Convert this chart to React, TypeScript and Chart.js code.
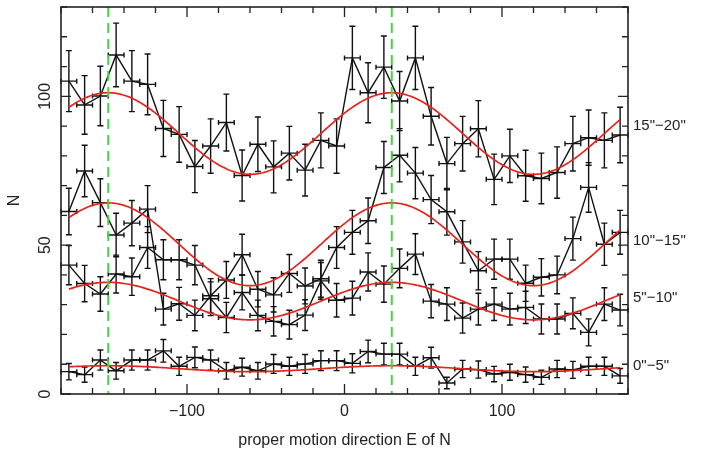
import React, { useEffect, useRef } from "react";
import { Chart, registerables } from "chart.js";

Chart.register(...registerables);

// ---- data ----
const binCenters = [
  -175, -165, -155, -145, -135, -125, -115, -105, -95, -85, -75, -65,
  -55, -45, -35, -25, -15, -5, 5, 15, 25, 35, 45, 55,
  65, 75, 85, 95, 105, 115, 125, 135, 145, 155, 165, 175,
];
const binHalfWidth = 5;

const counts0to5 = [
  7.5, 6.5, 11.4, 7.8, 11.4, 11.4, 14.5, 9.3, 12.3, 11.4, 7.8, 9.0,
  7.8, 10.1, 9.3, 10.1, 11.2, 11.2, 10.3, 14.3, 13.4, 13.4, 9.3, 12.2,
  3.7, 8.4, 8.2, 6.7, 7.3, 6.5, 5.6, 8.4, 8.1, 9.3, 9.3, 6.1,
];
const counts5to10 = [
  43.3, 37.1, 33.6, 40.3, 39.4, 49.2, 45.1, 45.1, 43.3, 32.0, 25.7, 34.1,
  26.4, 24.4, 23.3, 26.5, 38.0, 31.5, 32.2, 41.0, 36.9, 42.2, 47.0, 31.2,
  30.2, 25.5, 28.5, 30.2, 28.5, 29.1, 25.2, 25.2, 27.1, 20.7, 30.2, 28.2,
];
const counts10to15 = [
  61.3, 74.9, 64.3, 53.4, 57.4, 62.1, 28.5, 30.3, 26.4, 33.0, 38.3, 46.8,
  35.2, 33.3, 40.5, 36.3, 38.7, 49.2, 54.3, 58.2, 76.1, 80.2, 74.2, 65.3,
  61.2, 51.1, 41.4, 45.3, 45.3, 37.2, 39.2, 40.0, 52.2, 69.4, 50.3, 54.3,
];
const counts15to20 = [
  105.1, 97.1, 100.1, 113.9, 105.1, 104.0, 89.2, 87.2, 76.4, 83.3, 91.2, 73.4,
  83.9, 76.3, 80.9, 75.2, 85.2, 83.3, 112.9, 101.2, 109.8, 98.4, 112.9, 93.3,
  77.4, 84.1, 89.1, 72.1, 80.0, 73.3, 72.4, 74.4, 84.1, 86.1, 85.2, 87.0,
];
const seriesCounts = [counts0to5, counts5to10, counts10to15, counts15to20];
const seriesLabels = ['0"\u22125"', '5"\u221210"', '10"\u221215"', '15"\u221220"'];
const labelLevels = [9.4, 32.2, 51.3, 90.0];

// sinusoidal fit parameters: N = mean + amp * cos(2 (theta - phase))
const fitMeans = [8.5, 31.2, 50.3, 87.5];
const fitAmps = [1.0, 6.3, 13.9, 13.7];
const fitPhase = 30;
const fitRange = [-175, 175];

const markerDirections = [-150, 30];
const xMajorTicks = [-100, 0, 100];
const xTickLabels = ["\u2212100", "0", "100"];
const yMajorTicks = [0, 50, 100];
const yTickLabels = ["0", "50", "100"];
const xMinorStep = 20;
const yMinorStep = 10;
const xTitle = "proper motion direction E of N";
const yTitle = "N";

const FONT = '"Liberation Sans", Arial, Helvetica, sans-serif';
const TEXT = "#222";

function fitCurve(k: number) {
  const pts: { x: number; y: number }[] = [];
  for (let t = fitRange[0]; t <= fitRange[1]; t += 1) {
    pts.push({
      x: t,
      y: fitMeans[k] + fitAmps[k] * Math.cos((2 * (t - fitPhase) * Math.PI) / 180),
    });
  }
  return pts;
}

const decorPlugin = {
  id: "decor",
  beforeDatasetsDraw(chart: any) {
    const { ctx, scales } = chart;
    const xs = scales.x;
    const ys = scales.y;
    ctx.save();
    ctx.strokeStyle = "#111";
    ctx.lineWidth = 1.4;
    seriesCounts.forEach((arr) => {
      arr.forEach((v, i) => {
        const c = binCenters[i];
        const px = xs.getPixelForValue(c);
        const py = ys.getPixelForValue(v);
        const e = Math.sqrt(v);
        const pt = ys.getPixelForValue(v + e);
        const pb = ys.getPixelForValue(v - e);
        const xl = xs.getPixelForValue(c - binHalfWidth);
        const xr = xs.getPixelForValue(c + binHalfWidth);
        ctx.beginPath();
        ctx.moveTo(xl, py);
        ctx.lineTo(xr, py);
        ctx.moveTo(xl, py - 2.5);
        ctx.lineTo(xl, py + 2.5);
        ctx.moveTo(xr, py - 2.5);
        ctx.lineTo(xr, py + 2.5);
        ctx.moveTo(px, pt);
        ctx.lineTo(px, pb);
        ctx.moveTo(px - 3, pt);
        ctx.lineTo(px + 3, pt);
        ctx.moveTo(px - 3, pb);
        ctx.lineTo(px + 3, pb);
        ctx.stroke();
      });
    });
    ctx.restore();
  },
  afterDatasetsDraw(chart: any) {
    const { ctx, scales, chartArea } = chart;
    const xs = scales.x;
    const ys = scales.y;
    const { left, right, top, bottom } = chartArea;
    ctx.save();
    // green dashed markers
    ctx.strokeStyle = "#3ddc3d";
    ctx.lineWidth = 2;
    ctx.setLineDash([10, 6]);
    markerDirections.forEach((d) => {
      const px = xs.getPixelForValue(d);
      ctx.beginPath();
      ctx.moveTo(px, top);
      ctx.lineTo(px, bottom);
      ctx.stroke();
    });
    ctx.setLineDash([]);
    // frame
    ctx.strokeStyle = "#222";
    ctx.lineWidth = 1.6;
    ctx.strokeRect(left, top, right - left, bottom - top);
    // ticks
    ctx.lineWidth = 1.3;
    ctx.beginPath();
    for (let v = xs.min; v <= xs.max + 1e-6; v += xMinorStep) {
      const px = xs.getPixelForValue(v);
      const len = xMajorTicks.includes(v) ? 10 : 6;
      ctx.moveTo(px, bottom);
      ctx.lineTo(px, bottom - len);
      ctx.moveTo(px, top);
      ctx.lineTo(px, top + len);
    }
    for (let v = ys.min; v <= ys.max + 1e-6; v += yMinorStep) {
      const py = ys.getPixelForValue(v);
      const len = yMajorTicks.includes(v) ? 10 : 6;
      ctx.moveTo(left, py);
      ctx.lineTo(left + len, py);
      ctx.moveTo(right, py);
      ctx.lineTo(right - len, py);
    }
    ctx.stroke();
    ctx.restore();
  },
  afterDraw(chart: any) {
    const { ctx, scales, chartArea } = chart;
    const xs = scales.x;
    const ys = scales.y;
    const { left, right, top, bottom } = chartArea;
    ctx.save();
    ctx.fillStyle = TEXT;
    // x tick labels
    ctx.font = `16px ${FONT}`;
    ctx.textAlign = "center";
    ctx.textBaseline = "middle";
    xMajorTicks.forEach((v, i) => {
      ctx.fillText(xTickLabels[i], xs.getPixelForValue(v), bottom + 18);
    });
    // x title
    ctx.fillText(xTitle, (left + right) / 2, bottom + 47);
    // y tick labels (rotated)
    yMajorTicks.forEach((v, i) => {
      ctx.save();
      ctx.translate(left - 15, ys.getPixelForValue(v));
      ctx.rotate(-Math.PI / 2);
      ctx.fillText(yTickLabels[i], 0, 0);
      ctx.restore();
    });
    // y title
    ctx.save();
    ctx.translate(left - 46, (top + bottom) / 2);
    ctx.rotate(-Math.PI / 2);
    ctx.fillText(yTitle, 0, 0);
    ctx.restore();
    // series labels on right
    ctx.font = `15px ${FONT}`;
    ctx.textAlign = "left";
    seriesLabels.forEach((s, i) => {
      ctx.fillText(s, right + 5, ys.getPixelForValue(labelLevels[i]));
    });
    ctx.restore();
  },
};

export default function App() {
  const ref = useRef<HTMLCanvasElement | null>(null);
  useEffect(() => {
    if (!ref.current) return;
    const datasets: any[] = [];
    seriesCounts.forEach((arr, k) => {
      datasets.push({
        type: "line",
        data: fitCurve(k),
        borderColor: "#e8231c",
        borderWidth: 1.7,
        pointRadius: 0,
        tension: 0,
        order: 0,
      });
    });
    seriesCounts.forEach((arr) => {
      datasets.push({
        type: "line",
        data: arr.map((v, i) => ({ x: binCenters[i], y: v })),
        borderColor: "#111",
        borderWidth: 1.4,
        pointRadius: 0,
        tension: 0,
        order: 1,
      });
    });
    const chart = new Chart(ref.current, {
      type: "line",
      data: { datasets },
      options: {
        animation: false,
        responsive: false,
        devicePixelRatio: 1,
        layout: { padding: { left: 61, right: 99, top: 7, bottom: 64 } },
        plugins: { legend: { display: false }, tooltip: { enabled: false } },
        scales: {
          x: { type: "linear", min: -180, max: 180, display: false },
          y: { type: "linear", min: 0, max: 130, display: false },
        },
      },
      plugins: [decorPlugin],
    });
    return () => chart.destroy();
  }, []);
  return (
    <div style={{ position: "absolute", left: 0, top: 0, width: 727, height: 458, background: "#fff" }}>
      <canvas ref={ref} width={727} height={458} style={{ width: 727, height: 458 }} />
    </div>
  );
}
